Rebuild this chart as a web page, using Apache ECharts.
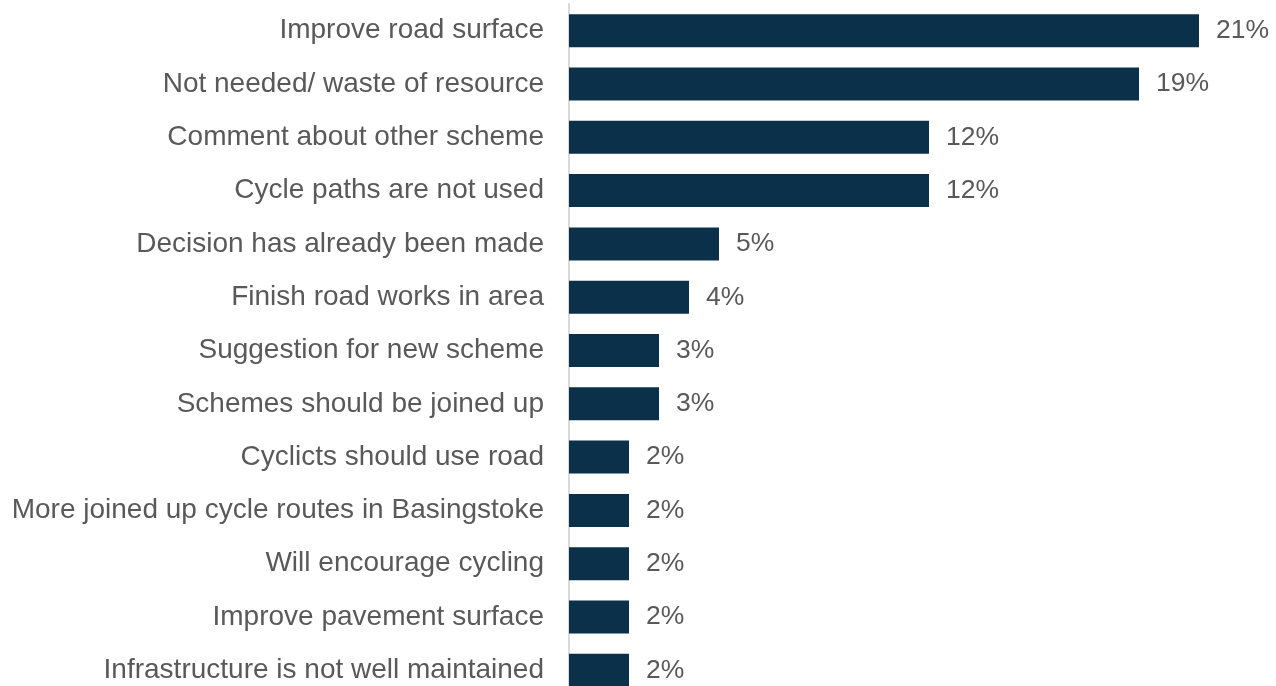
<!DOCTYPE html>
<html>
<head>
<meta charset="utf-8">
<script src="https://cdn.jsdelivr.net/npm/echarts@6/dist/echarts.min.js"></script>
<style>
  html, body { margin: 0; padding: 0; background: #ffffff; }
  #chart { width: 1276px; height: 686px; }
</style>
</head>
<body>
<div id="chart"></div>
<script>
// Feedback themes, share of comments (%)
const categories = [
  'Improve road surface',
  'Not needed/ waste of resource',
  'Comment about other scheme',
  'Cycle paths are not used',
  'Decision has already been made',
  'Finish road works in area',
  'Suggestion for new scheme',
  'Schemes should be joined up',
  'Cyclicts should use road',
  'More joined up cycle routes in Basingstoke',
  'Will encourage cycling',
  'Improve pavement surface',
  'Infrastructure is not well maintained'
];
const shares = [21, 19, 12, 12, 5, 4, 3, 3, 2, 2, 2, 2, 2];

const chart = echarts.init(document.getElementById('chart'), null, { renderer: 'canvas' });
const font = 'Arial, "Liberation Sans", sans-serif';

chart.setOption({
  animation: false,
  backgroundColor: '#ffffff',
  grid: {
    left: 569, top: 4, width: 630, height: 693,
    outerBoundsMode: 'none'
  },
  xAxis: {
    type: 'value',
    min: 0,
    max: 21,
    show: false
  },
  yAxis: {
    type: 'category',
    inverse: true,
    data: categories,
    axisLine: { show: true, lineStyle: { color: '#d9d9d9', width: 2 } },
    axisTick: { show: false },
    axisLabel: {
      color: '#595959',
      fontSize: 28,
      fontFamily: font,
      margin: 25
    },
    splitLine: { show: false }
  },
  series: [{
    type: 'bar',
    data: shares,
    barWidth: 33,
    itemStyle: { color: '#0b3049' },
    label: {
      show: true,
      position: 'right',
      distance: 17,
      color: '#595959',
      fontSize: 26.5,
      fontFamily: font,
      formatter: p => p.value + '%'
    }
  }]
});
</script>
</body>
</html>
